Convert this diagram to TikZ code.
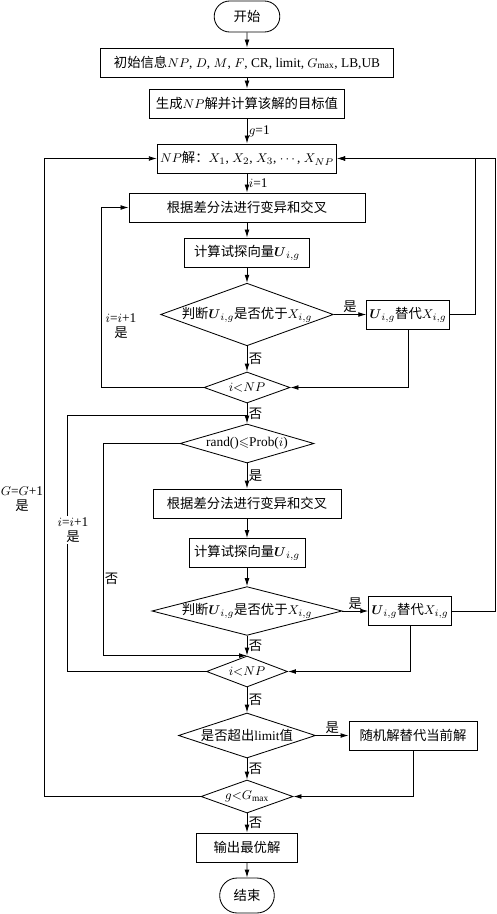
\documentclass[tikz,border=0pt]{standalone}
\usepackage{amsmath,amssymb}
\usepackage{fontspec}
\setmainfont{Liberation Serif}
\newfontfamily\cjk{Noto Sans CJK SC}
\newcommand{\zh}[1]{{\cjk #1}}
\usetikzlibrary{shapes.geometric,shapes.misc,arrows.meta,calc}

\begin{document}
\begin{tikzpicture}
[   x=0.25mm, y=-0.25mm,
    font=\fontsize{9.5pt}{11pt}\selectfont,
    line width=0.6pt,
    arr/.style={-{Latex[length=2mm,width=1.2mm]}},
    box/.style={draw,minimum width=#1,minimum height=7.25mm,inner xsep=2pt,inner ysep=1pt},
    term/.style={draw,rounded rectangle,minimum width=#1},
    dec/.style={draw,diamond,inner sep=0pt,aspect=#1},
    note/.style={inner sep=1pt},
]
    \useasboundingbox (0,0) rectangle (496,914);

%%%%%%%%%%%%%%%%%%%% INIT %%%%%%%%%%%%%%%%%%%%%%%%%%%%%%%%%%%
    \node[term=18.75mm,minimum height=7.75mm] (start) at (247,16.5) {\zh{开始}};
    \node[box=73.25mm] (init) at (247,62.5) {\zh{初始信息}$NP$, $D$, $M$, $F$, CR, limit, $G_{\max}$, LB,UB};
    \node[box=48.75mm] (gen) at (247,103.5) {\zh{生成}$NP$\zh{解并计算该解的目标值}};
    \node[box=44mm] (np) at (247,158.5) {$NP$\zh{解：}$X_1$, $X_2$, $X_3$, $\cdots$, $X_{NP}$};

%%%%%%%%%%%%%%%%%%%% FIRST LOOP %%%%%%%%%%%%%%%%%%%%%%%%%%%%%%%%%%%
    \node[box=59mm] (mut1) at (247,207.5) {\zh{根据差分法进行变异和交叉}};
    \node[box=31.25mm] (tri1) at (247,252.5) {\zh{计算试探向量}$\boldsymbol{U}_{i,g}$};
    \node[dec=2.76,minimum width=40.75mm,minimum height=14.75mm] (dec1) at (247,314.5) {\zh{判断}$\boldsymbol{U}_{i,g}$\zh{是否优于}$X_{i,g}$};
    \node[box=18.5mm] (rep1) at (408,314.5) {$\boldsymbol{U}_{i,g}$\zh{替代}$X_{i,g}$};
    \node[dec=2.77,minimum width=21.5mm,minimum height=7.75mm] (lt1) at (247,387.5) {$i{<}NP$};

%%%%%%%%%%%%%%%%%%%% SECOND LOOP %%%%%%%%%%%%%%%%%%%%%%%%%%%%%%%%%%%
    \node[dec=3.44,minimum width=33.5mm,minimum height=9.75mm] (rand) at (247,443.5) {rand()$\leqslant$Prob($i$)};
    \node[box=47mm] (mut2) at (247,503.5) {\zh{根据差分法进行变异和交叉}};
    \node[box=29mm] (tri2) at (247,553) {\zh{计算试探向量}$\boldsymbol{U}_{i,g}$};
    \node[dec=3.9,minimum width=45mm,minimum height=11.5mm] (dec2) at (247,611) {\zh{判断}$\boldsymbol{U}_{i,g}$\zh{是否优于}$X_{i,g}$};
    \node[box=18.5mm] (rep2) at (410,611) {$\boldsymbol{U}_{i,g}$\zh{替代}$X_{i,g}$};
    \node[dec=2.6,minimum width=20.25mm,minimum height=7.75mm] (lt2) at (247,671.5) {$i{<}NP$};

%%%%%%%%%%%%%%%%%%%% LIMIT AND END %%%%%%%%%%%%%%%%%%%%%%%%%%%%%%%%%%%
    \node[dec=3.04,minimum width=34.25mm,minimum height=11.25mm] (lim) at (247,735.5) {\zh{是否超出}limit\zh{值}};
    \node[box=32mm] (rnd) at (413,735.5) {\zh{随机解替代当前解}};
    \node[dec=2.8,minimum width=23mm,minimum height=8.25mm] (gmax) at (247,796.5) {$g{<}G_{\max}$};
    \node[box=25.25mm] (out) at (247,847.5) {\zh{输出最优解}};
    \node[term=16mm,minimum height=8.75mm] (end) at (247,895.5) {\zh{结束}};

%%%%%%%%%%%%%%%%%%%% ARROWS %%%%%%%%%%%%%%%%%%%%%%%%%%%%%%%%%%%
    \foreach \a/\b in {start/init,init/gen,mut1/tri1,tri1/dec1,mut2/tri2,tri2/dec2,out/end}
        \draw[arr] (\a) -- (\b);
    \draw[arr] (gen) -- node[note,right] {$g$=1} (np);
    \draw[arr] (np) -- node[note,right] {$i$=1} (mut1);
    \draw[arr] (dec1) -- node[note,above] {\zh{是}} (rep1);
    \draw[arr] (dec1) -- node[note,right] {\zh{否}} (lt1);
    \draw[arr] (lt1) -- node[note,right] {\zh{否}} (rand);
    \draw[arr] (rand) -- node[note,right] {\zh{是}} (mut2);
    \draw[arr] (dec2) -- node[note,above] {\zh{是}} (rep2);
    \draw[arr] (dec2) -- node[note,right] {\zh{否}} (lt2);
    \draw[arr] (lt2) -- node[note,right] {\zh{否}} (lim);
    \draw[arr] (lim) -- node[note,above] {\zh{是}} (rnd);
    \draw[arr] (lim) -- node[note,right] {\zh{否}} (gmax);
    \draw[arr] (gmax) -- node[note,right] {\zh{否}} (out);

    % back to the loop tests
    \draw[arr] (rep1.south) |- (lt1.east);
    \draw[arr] (rep2.south) |- (lt2.east);
    \draw[arr] (rnd.south) |- (gmax.east);
    \draw[arr] (rep1.east) -| ($(np.east)+(138,0)$) -- (np.east);
    \draw[arr] (rep2.east) -| ($(np.east)+(158,0)$) -- (np.east);
    \draw[arr] (lt1.west) -| ($(mut1.west)+(-27,0)$) -- (mut1.west);
    \draw (lt2.west) -| ($(lt1.south)+(-180,12)$) -- ($(lt1.south)+(0,12)$);
    \draw[arr] (rand.west) -| node[note,right,pos=0.82] {\zh{否}} ($(lt2.north)+(-144,0)$) -- (lt2.north);
    \draw[arr] (gmax.west) -| ($(np.west)+(-112,0)$) -- (np.west);

    % loop counters
    \node[note,fill=white,align=center] (inc1) at (121,326) {$i$=$i$+1\\\zh{是}};
    \node[note,fill=white,align=center] (inc2) at (73,530) {$i$=$i$+1\\\zh{是}};
    \node[note,fill=white,align=center] (incg) at (22,499) {$G$=$G$+1\\\zh{是}};

\end{tikzpicture}
\end{document}
